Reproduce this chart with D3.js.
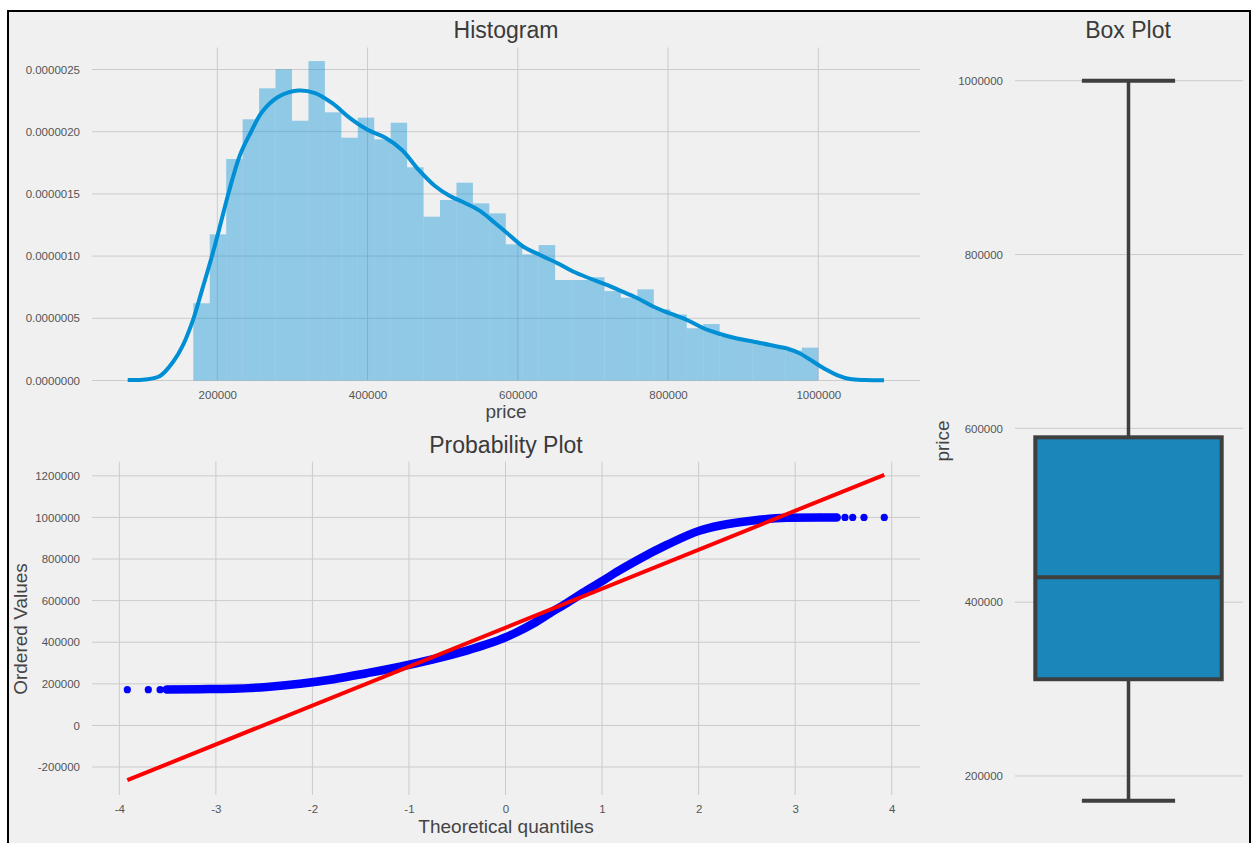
<!DOCTYPE html>
<html><head><meta charset="utf-8">
<script src="https://cdn.jsdelivr.net/npm/d3@7"></script>
<style>
html,body{margin:0;padding:0;background:#fff;}
svg{display:block;}
text{font-family:"Liberation Sans",Arial,Helvetica,sans-serif;}
</style></head><body>
<svg id="chart" width="1254" height="843"></svg>
<script>
// ---------- DATA ----------
const histXTicks = [200000, 400000, 600000, 800000, 1000000];
const histYTicks = [0, 5e-7, 1e-6, 1.5e-6, 2e-6, 2.5e-6];
const histRange = [168050, 1000000];          // min / max price (bin extent)
// bar densities in units of 1e-6
const histDensity = [0.621,1.175,1.781,2.100,2.349,2.502,2.088,2.568,2.156,1.952,
  2.113,1.939,2.072,1.714,1.317,1.451,1.590,1.424,1.344,1.095,1.014,1.089,0.808,0.808,
  0.830,0.719,0.665,0.733,0.572,0.530,0.420,0.454,0.352,0.331,0.299,0.277,0.240,0.264];
const kdePrice = [80730,103760,123730,141030,154340,168050,179630,192550,203590,214640,
  230220,244860,259500,280800,307420,330050,352680,376640,400600,423230,445850,467150,
  489780,509750,529710,549680,569650,585620,606920,629540,652170,673470,696100,718730,
  736030,758660,779960,802580,825210,846510,869140,891770,913070,935700,958330,975630,
  992940,1010240,1024880,1042180,1062150,1087440];
const kdeDensity = [0.004,0.008,0.036,0.149,0.285,0.494,0.727,0.993,1.242,1.499,1.813,
  1.998,2.158,2.279,2.331,2.311,2.231,2.110,2.014,1.953,1.853,1.700,1.564,1.483,1.427,
  1.363,1.266,1.186,1.077,1.009,0.945,0.876,0.820,0.768,0.723,0.663,0.595,0.539,0.486,
  0.422,0.374,0.338,0.314,0.285,0.257,0.217,0.153,0.088,0.044,0.012,0.004,0.002];

const qqTheoretical = [-3.917,-3.700,-3.578,-3.509,-3.164,-2.822,-2.473,-2.128,-1.783,
  -1.438,-1.093,-0.748,-0.402,-0.195,0.012,0.116,0.288,0.461,0.634,0.841,1.013,1.152,
  1.359,1.670,2.015,2.222,2.567,2.912,3.257,3.430,3.516,3.596,3.713,3.923];
const qqOrdered = [172000,172000,172000,172800,174200,176600,185200,200600,222200,
  251000,282200,318200,360000,390000,426000,448000,490000,540000,588000,649300,697300,
  738000,793300,867700,937300,961300,985300,998200,1000000,1000000,1000000,1000000,
  1000000,1000000];
const qqFit = [187280, 470300];   // slope, intercept
const qqXTicks = [-4,-3,-2,-1,0,1,2,3,4];
const qqYTicks = [-200000,0,200000,400000,600000,800000,1000000,1200000];

const boxCategory = ["price"];
const boxStats = [171600, 311300, 428600, 589700, 1000000]; // low whisker, q1, median, q3, high whisker
const boxYTicks = [200000, 400000, 600000, 800000, 1000000];

// ---------- STYLE ----------
const BG = "#f0f0f0", GRID = "#cbcbcb", TICK = "#555", LABEL = "#444", TITLE = "#3a3a3a";
const svg = d3.select("#chart");

svg.append("rect").attr("x", 8).attr("y", 11).attr("width", 1242).attr("height", 860)
  .attr("fill", BG).attr("stroke", "#000").attr("stroke-width", 2);

function hGrid(g, ticks, y, x0, x1) {
  g.selectAll(null).data(ticks).enter().append("line")
    .attr("x1", x0).attr("x2", x1).attr("y1", d => y(d)).attr("y2", d => y(d))
    .attr("stroke", GRID).attr("stroke-width", 1);
}
function vGrid(g, ticks, x, y0, y1) {
  g.selectAll(null).data(ticks).enter().append("line")
    .attr("x1", d => x(d)).attr("x2", d => x(d)).attr("y1", y0).attr("y2", y1)
    .attr("stroke", GRID).attr("stroke-width", 1);
}
function yAxis(g, scale, ticks, xPos, fmt) {
  const ax = d3.axisLeft(scale).tickValues(ticks).tickSize(0).tickPadding(0).tickFormat(fmt);
  const a = g.append("g").attr("transform", `translate(${xPos},0)`).call(ax);
  a.select(".domain").remove();
  a.selectAll("text").attr("fill", TICK).attr("font-size", 11.5)
    .style("font-family", '"Liberation Sans",Arial,sans-serif');
}
function xAxis(g, scale, ticks, yPos, fmt) {
  const ax = d3.axisBottom(scale).tickValues(ticks).tickSize(0).tickPadding(0).tickFormat(fmt);
  const a = g.append("g").attr("transform", `translate(0,${yPos})`).call(ax);
  a.select(".domain").remove();
  a.selectAll("text").attr("fill", TICK).attr("font-size", 11.5)
    .style("font-family", '"Liberation Sans",Arial,sans-serif');
}
function title(t, x, y) {
  svg.append("text").attr("x", x).attr("y", y).attr("text-anchor", "middle")
    .attr("font-size", 23).attr("fill", TITLE).text(t);
}
function label(t, x, y, rot) {
  svg.append("text").attr("transform", `translate(${x},${y}) rotate(${rot || 0})`)
    .attr("text-anchor", "middle").attr("font-size", 19).attr("fill", LABEL).text(t);
}

// ---------- HISTOGRAM ----------
{
  const L = 92, R = 920, T = 47.5, B = 380.5;
  const x = d3.scaleLinear().domain([33210, 1135370]).range([L, R]);
  const y = d3.scaleLinear().domain([0, 2.677e-6]).range([B, T]);
  const g = svg.append("g");
  hGrid(g, histYTicks, y, L, R);
  vGrid(g, histXTicks, x, T, B);
  const w = (histRange[1] - histRange[0]) / histDensity.length;
  g.selectAll(".bar").data(histDensity).enter().append("rect")
    .attr("x", (d, i) => x(histRange[0] + i * w))
    .attr("width", (d, i) => x(histRange[0] + (i + 1) * w) - x(histRange[0] + i * w))
    .attr("y", d => y(d * 1e-6)).attr("height", d => B - y(d * 1e-6))
    .attr("fill", "#008fd5").attr("fill-opacity", 0.4);
  const line = d3.line().x((d, i) => x(kdePrice[i])).y(d => y(d * 1e-6)).curve(d3.curveCatmullRom.alpha(0.5));
  g.append("path").attr("d", line(kdeDensity)).attr("fill", "none")
    .attr("stroke", "#008fd5").attr("stroke-width", 4).attr("stroke-linejoin", "round");
  yAxis(g, y, histYTicks, 80, d => d.toFixed(7));
  xAxis(g, x, histXTicks, 391, d => String(d));
  title("Histogram", 506, 38);
  label("price", 506, 418);
}

// ---------- PROBABILITY PLOT ----------
{
  const L = 92, R = 920, T = 461.7, B = 795;
  const x = d3.scaleLinear().domain([-4.283, 4.293]).range([L, R]);
  const y = d3.scaleLinear().domain([-334500, 1268000]).range([B, T]);
  const g = svg.append("g");
  hGrid(g, qqYTicks, y, L, R);
  vGrid(g, qqXTicks, x, T, B);
  const dense = qqOrdered.map((d, i) => [qqTheoretical[i], d]).slice(3, 30);
  const band = d3.line().x(d => x(d[0])).y(d => y(d[1])).curve(d3.curveMonotoneX);
  g.append("path").attr("d", band(dense)).attr("fill", "none").attr("stroke", "#0000ff")
    .attr("stroke-width", 8.5).attr("stroke-linecap", "round").attr("stroke-linejoin", "round");
  g.selectAll(".dot").data(qqOrdered).enter().append("circle")
    .attr("cx", (d, i) => x(qqTheoretical[i])).attr("cy", d => y(d)).attr("r", 3.6)
    .attr("fill", "#0000ff");
  const ext = d3.extent(qqTheoretical);
  g.append("line").attr("x1", x(ext[0])).attr("x2", x(ext[1]))
    .attr("y1", y(qqFit[0] * ext[0] + qqFit[1])).attr("y2", y(qqFit[0] * ext[1] + qqFit[1]))
    .attr("stroke", "#ff0000").attr("stroke-width", 4);
  yAxis(g, y, qqYTicks, 80, d => String(d));
  xAxis(g, x, qqXTicks, 805, d => String(d));
  title("Probability Plot", 506, 453);
  label("Theoretical quantiles", 506, 833);
  label("Ordered Values", 27, 629, -90);
}

// ---------- BOX PLOT ----------
{
  const L = 1015, R = 1243, T = 45.1, B = 836.8;
  const y = d3.scaleLinear().domain([130000, 1041000]).range([B, T]);
  const x = d3.scaleBand().domain(boxCategory).range([1012, 1245]);
  const g = svg.append("g");
  hGrid(g, boxYTicks, y, L, R);
  const cx = x(boxCategory[0]) + x.bandwidth() / 2;
  const bw = x.bandwidth() * 0.8;
  const cw = bw / 2;
  const EDGE = "#3f3f3f";
  g.append("line").attr("x1", cx).attr("x2", cx).attr("y1", y(boxStats[3])).attr("y2", y(boxStats[4]))
    .attr("stroke", EDGE).attr("stroke-width", 3.5);
  g.append("line").attr("x1", cx).attr("x2", cx).attr("y1", y(boxStats[1])).attr("y2", y(boxStats[0]))
    .attr("stroke", EDGE).attr("stroke-width", 3.5);
  [boxStats[0], boxStats[4]].forEach(v => {
    g.append("line").attr("x1", cx - cw / 2).attr("x2", cx + cw / 2).attr("y1", y(v)).attr("y2", y(v))
      .attr("stroke", EDGE).attr("stroke-width", 4);
  });
  g.append("rect").attr("x", cx - bw / 2).attr("width", bw)
    .attr("y", y(boxStats[3])).attr("height", y(boxStats[1]) - y(boxStats[3]))
    .attr("fill", "#1b86ba").attr("stroke", EDGE).attr("stroke-width", 4);
  g.append("line").attr("x1", cx - bw / 2).attr("x2", cx + bw / 2)
    .attr("y1", y(boxStats[2])).attr("y2", y(boxStats[2]))
    .attr("stroke", EDGE).attr("stroke-width", 4);
  yAxis(g, y, boxYTicks, 1003, d => String(d));
  title("Box Plot", 1128, 38);
  label("price", 949, 441, -90);
}
</script>
</body></html>
